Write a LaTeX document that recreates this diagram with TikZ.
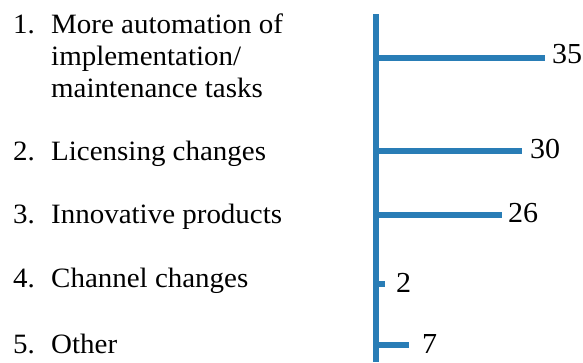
\documentclass[tikz,border=0pt]{standalone}
\usepackage{fontspec}
\setmainfont{Liberation Serif}[FakeStretch=1.035]
\definecolor{barblue}{RGB}{41,125,182}
\begin{document}
\begin{tikzpicture}[x=1pt,y=-1pt,
  lst/.style={anchor=base west, inner sep=0pt, font=\fontsize{28}{32}\selectfont},
  val/.style={anchor=base west, inner sep=0pt, font=\fontsize{29}{32}\selectfont},
  bar/.style={draw=barblue, line width=5.5pt}]
\useasboundingbox (0,0) rectangle (583,362);
% list
\node[lst] (n1) at (13,33) {1.};
\node[lst] (t1a) at (51,33) {More automation of};
\node[lst] (t1b) at (51,65.5) {implementation/};
\node[lst] (t1c) at (51,97.5) {maintenance tasks};
\node[lst] (n2) at (13,160) {2.};
\node[lst] (t2) at (51,160) {Licensing changes};
\node[lst] (n3) at (13,223) {3.};
\node[lst] (t3) at (51,223) {Innovative products};
\node[lst] (n4) at (13,287) {4.};
\node[lst] (t4) at (51,287) {Channel changes};
\node[lst] (n5) at (13,353) {5.};
\node[lst] (t5) at (51,353) {Other};
% axis
\coordinate (axtop) at (376,14);
\coordinate (axbot) at (376,362);
\draw[bar] (axtop) -- (axbot);
% bars
\coordinate (b1) at (376,58);  \coordinate (e1) at (545,58);
\coordinate (b2) at (376,151); \coordinate (e2) at (522,151);
\coordinate (b3) at (376,215); \coordinate (e3) at (502,215);
\coordinate (b4) at (376,284); \coordinate (e4) at (385,284);
\coordinate (b5) at (376,345); \coordinate (e5) at (409,345);
\foreach \i in {1,...,5} {\draw[bar] (b\i) -- (e\i);}
% values
\node[val] (v1) at (552,63.5) {35};
\node[val] (v2) at (530,158) {30};
\node[val] (v3) at (508,222) {26};
\node[val] (v4) at (396,292) {2};
\node[val] (v5) at (422,353) {7};
\end{tikzpicture}
\end{document}
